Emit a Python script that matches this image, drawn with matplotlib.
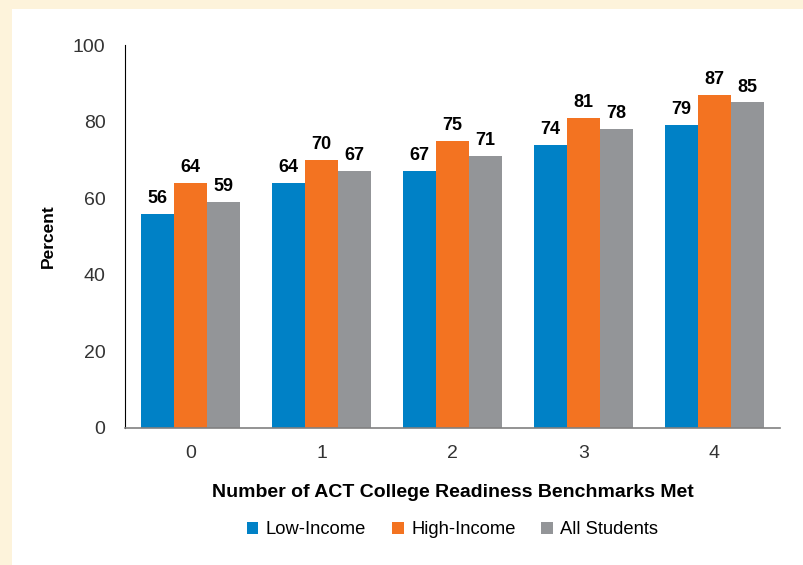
import matplotlib
matplotlib.use("Agg")
from matplotlib import pyplot as plt
from matplotlib.patches import Rectangle
import numpy as np

plt.rcParams['font.family'] = ['Liberation Sans', 'DejaVu Sans']

categories = ["0", "1", "2", "3", "4"]
series_names = ["Low-Income", "High-Income", "All Students"]
low_income = [56, 64, 67, 74, 79]
high_income = [64, 70, 75, 81, 87]
all_students = [59, 67, 71, 78, 85]
colors = ["#0081C6", "#F37321", "#939598"]

fig = plt.figure(figsize=(8.04, 5.65), dpi=100)
fig.patch.set_facecolor("#FDF3DB")
fig.patches.append(Rectangle((12 / 804, 0), 1, 1 - 9 / 565, transform=fig.transFigure,
                             facecolor="white", edgecolor="none", zorder=-10))

ax = fig.add_axes([125 / 804, 137 / 565, 655 / 804, 383 / 565])
ax.set_facecolor("none")

x = np.arange(len(categories))
w = 0.25
for i, (vals, name) in enumerate(zip([low_income, high_income, all_students], series_names)):
    bars = ax.bar(x + (i - 1) * w, vals, w, color=colors[i], label=name)
    ax.bar_label(bars, padding=5, fontsize=13, fontweight="bold")

ax.set_xlim(-0.5, 4.5)
ax.set_ylim(0, 100)
ax.set_yticks(range(0, 101, 20))
ax.set_xticks(x)
ax.set_xticklabels(categories)
ax.tick_params(length=0, labelsize=14, colors="#333333", pad=12)
ax.tick_params(axis="y", pad=14)
for s in ["top", "right"]:
    ax.spines[s].set_visible(False)
ax.spines["left"].set_color("black")
ax.spines["bottom"].set_color("#808080")
ax.spines["bottom"].set_linewidth(1.2)

ax.set_xlabel("Number of ACT College Readiness Benchmarks Met", fontsize=14,
              fontweight="bold", labelpad=16)
ax.set_ylabel("Percent", fontsize=12.5, fontweight="bold", labelpad=12)

ax.legend(loc="upper center", bbox_to_anchor=(0.5, -0.2), ncol=3, frameon=False,
          fontsize=13.2, handlelength=0.65, handleheight=0.65, handletextpad=0.4,
          columnspacing=1.4)

fig.savefig("out.png", dpi=100, facecolor=fig.get_facecolor())
